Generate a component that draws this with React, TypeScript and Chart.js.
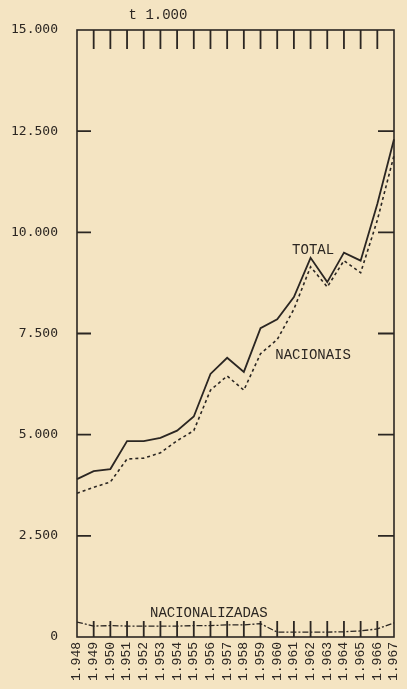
import React, { useEffect, useRef } from "react";
import { Chart, registerables } from "chart.js";

Chart.register(...registerables);

const years = ["1.948","1.949","1.950","1.951","1.952","1.953","1.954","1.955","1.956","1.957","1.958","1.959","1.960","1.961","1.962","1.963","1.964","1.965","1.966","1.967"];
const total = [3900,4100,4150,4840,4840,4920,5100,5450,6500,6900,6550,7630,7850,8400,9370,8770,9500,9300,10700,12300];
const nacionais = [3550,3700,3830,4400,4420,4550,4850,5100,6100,6450,6100,7000,7350,8100,9150,8650,9300,9000,10300,11900];
const nacionalizadas = [370,270,280,270,270,270,270,280,280,300,300,330,120,120,120,120,130,150,200,350];
const yTickValues = [0,2500,5000,7500,10000,12500,15000];
const yTickLabels = ["0","2.500","5.000","7.500","10.000","12.500","15.000"];
const unitLabel = "t 1.000";

const BG = "#F4E4C2";
const INK = "#2b2622";

const framePlugin = {
  id: "frame",
  beforeDraw(chart: any) {
    const { ctx } = chart;
    ctx.save();
    ctx.fillStyle = BG;
    ctx.fillRect(0, 0, chart.width, chart.height);
    ctx.restore();
  },
  afterDraw(chart: any) {
    const { ctx, chartArea: a } = chart;
    const xs = chart.scales.x;
    const ys = chart.scales.y;
    ctx.save();
    ctx.strokeStyle = INK;
    ctx.lineWidth = 1.6;
    ctx.strokeRect(a.left, a.top, a.right - a.left, a.bottom - a.top);
    ctx.lineWidth = 1.8;
    ctx.beginPath();
    for (let i = 1; i < years.length - 1; i++) {
      const px = xs.getPixelForValue(i);
      ctx.moveTo(px, a.top);
      ctx.lineTo(px, a.top + 19);
      ctx.moveTo(px, a.bottom);
      ctx.lineTo(px, a.bottom - 16);
    }
    for (let j = 1; j < yTickValues.length - 1; j++) {
      const py = ys.getPixelForValue(yTickValues[j]);
      ctx.moveTo(a.left, py);
      ctx.lineTo(a.left + 14, py);
      ctx.moveTo(a.right, py);
      ctx.lineTo(a.right - 16, py);
    }
    ctx.stroke();
    ctx.fillStyle = INK;
    ctx.font = '14px "Liberation Mono"';
    ctx.textAlign = "center";
    ctx.textBaseline = "middle";
    ctx.fillText(unitLabel, a.left + 81, a.top - 15);
    ctx.fillText("TOTAL", xs.getPixelForValue(14.15), ys.getPixelForValue(9560));
    ctx.fillText("NACIONAIS", xs.getPixelForValue(14.15), ys.getPixelForValue(6960));
    ctx.fillText("NACIONALIZADAS", xs.getPixelForValue(7.9), ys.getPixelForValue(590));
    ctx.restore();
  },
};

export default function App() {
  const ref = useRef<HTMLCanvasElement | null>(null);
  useEffect(() => {
    document.body.style.margin = "0";
    document.body.style.background = BG;
    if (!ref.current) return;
    const chart = new Chart(ref.current, {
      type: "line",
      data: {
        labels: years,
        datasets: [
          { label: "TOTAL", data: total, borderColor: INK, borderWidth: 1.8, pointRadius: 0, tension: 0, fill: false },
          { label: "NACIONAIS", data: nacionais, borderColor: INK, borderWidth: 1.6, borderDash: [3, 3], pointRadius: 0, tension: 0, fill: false },
          { label: "NACIONALIZADAS", data: nacionalizadas, borderColor: INK, borderWidth: 1.3, borderDash: [6, 2, 2, 2], pointRadius: 0, tension: 0, fill: false },
        ],
      },
      options: {
        responsive: false,
        animation: false,
        layout: { padding: { top: 30, right: 13, left: 0, bottom: 0 } },
        plugins: { legend: { display: false }, tooltip: { enabled: false }, title: { display: false } },
        scales: {
          x: {
            type: "category",
            offset: false,
            grid: { display: false, drawTicks: false },
            border: { display: false },
            afterFit(s: any) { s.height = 52; s.paddingRight = 0; s.paddingLeft = 0; },
            ticks: {
              autoSkip: false,
              minRotation: 90,
              maxRotation: 90,
              padding: 5,
              color: INK,
              font: { family: "Liberation Mono", size: 13 },
            },
          },
          y: {
            type: "linear",
            min: 0,
            max: 15000,
            afterFit(s: any) { s.width = 77; s.paddingTop = 0; s.paddingBottom = 0; },
            afterBuildTicks(s: any) { s.ticks = yTickValues.map((v) => ({ value: v })); },
            grid: { display: false, drawTicks: false },
            border: { display: false },
            ticks: {
              padding: 19,
              color: INK,
              font: { family: "DejaVu Sans Mono", size: 13 },
              callback: (v: any) => {
                const i = yTickValues.indexOf(Number(v));
                return i >= 0 ? yTickLabels[i] : "";
              },
            },
          },
        },
      },
      plugins: [framePlugin],
    });
    return () => chart.destroy();
  }, []);
  return (
    <div style={{ width: 407, height: 689, background: BG }}>
      <canvas ref={ref} width={407} height={689} style={{ display: "block" }} />
    </div>
  );
}
